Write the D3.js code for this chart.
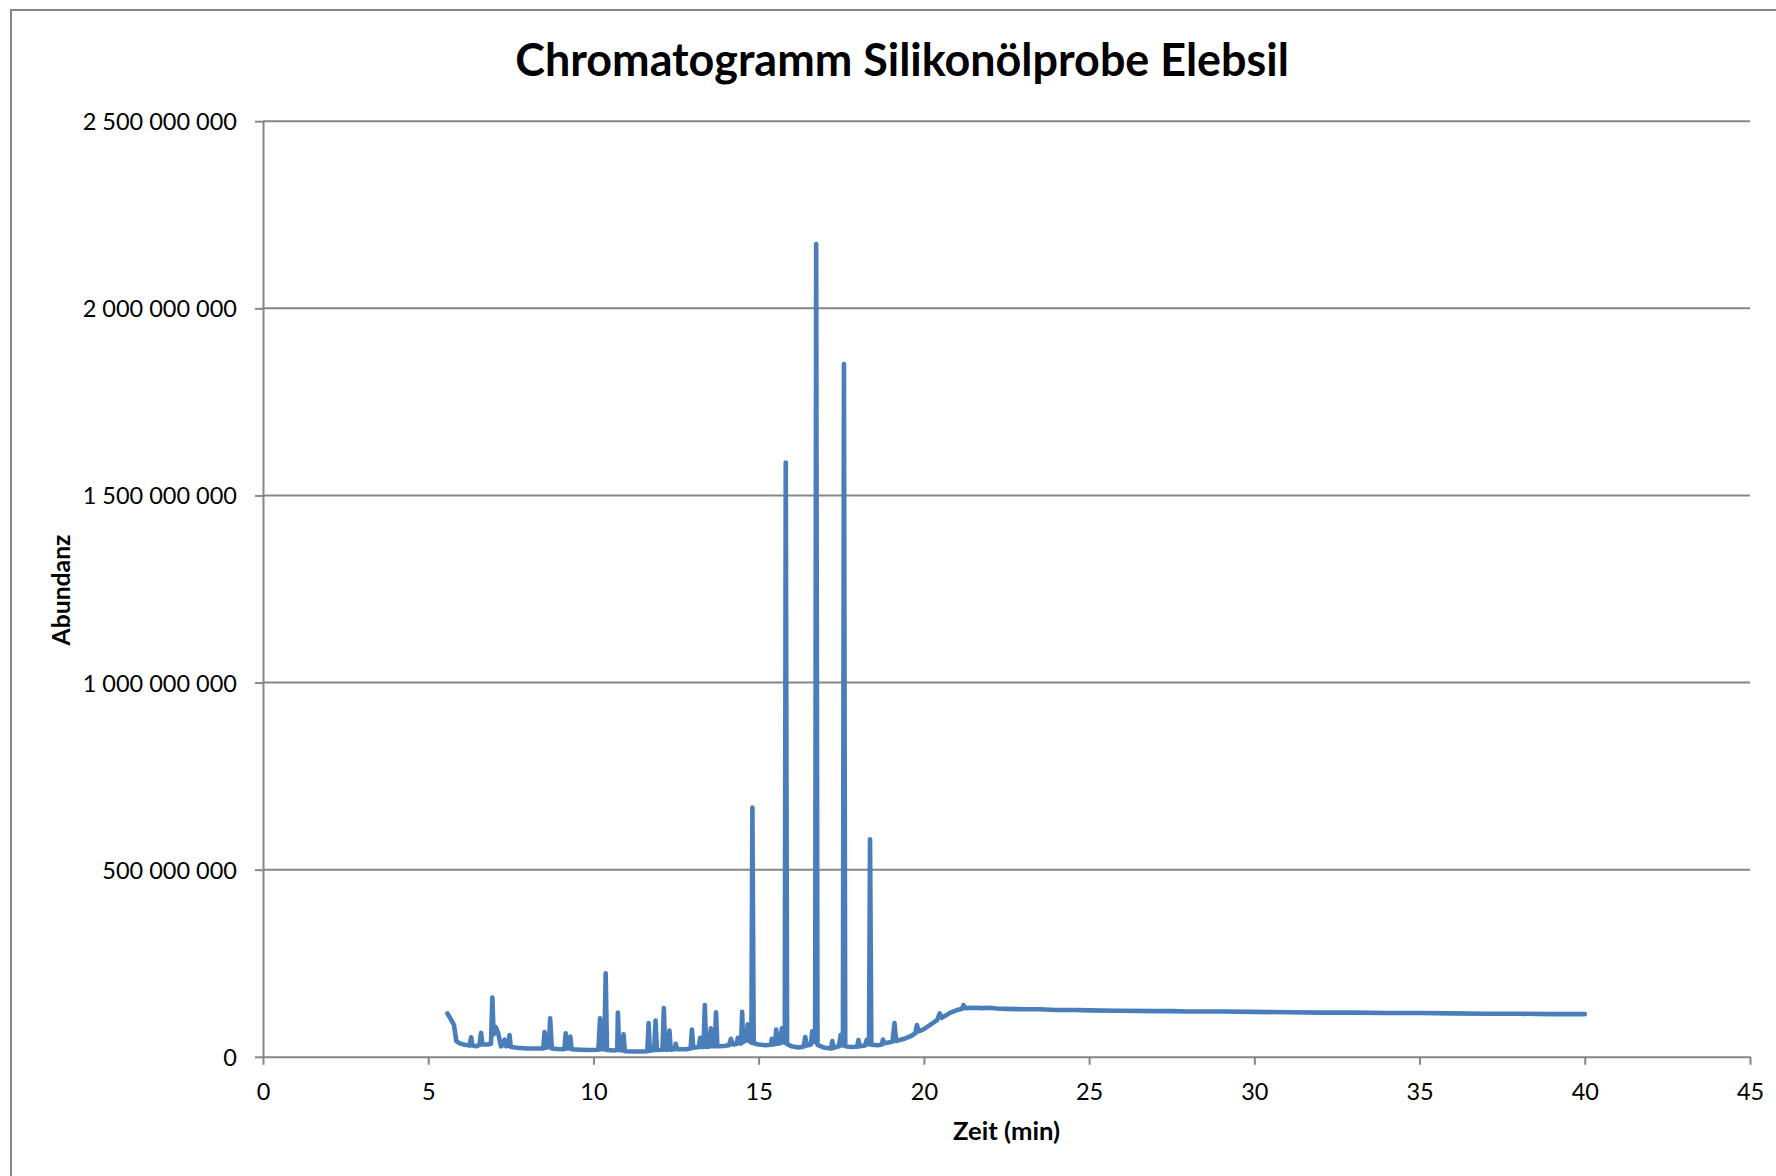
<!DOCTYPE html>
<html>
<head>
<meta charset="utf-8">
<script src="https://cdn.jsdelivr.net/npm/d3@7"></script>
<style>
  html, body { margin: 0; padding: 0; background: #ffffff; }
  svg { display: block; }
</style>
</head>
<body>
<svg id="chart" width="1776" height="1176"></svg>
<script>
// ---------- data (time in min, abundance) ----------
const chartTitle = "Chromatogramm Silikonölprobe Elebsil";
const xTitle = "Zeit (min)";
const yTitle = "Abundanz";
const xTicks = [0, 5, 10, 15, 20, 25, 30, 35, 40, 45];
const yTicks = [0, 500000000, 1000000000, 1500000000, 2000000000, 2500000000];

// retention times (min)
const times = [
  5.58, 5.70, 5.78, 5.82, 5.85, 5.95, 6.10, 6.25, 6.30, 6.34, 6.45, 6.55, 6.60, 6.64, 6.80, 6.90,
  6.94, 6.98, 7.04, 7.12, 7.20, 7.27, 7.31, 7.36, 7.43, 7.46, 7.50, 7.70, 8.00, 8.30, 8.48, 8.52,
  8.56, 8.65, 8.69, 8.74, 9.00, 9.12, 9.16, 9.20, 9.27, 9.30, 9.34, 9.60, 9.90, 10.15, 10.20, 10.25,
  10.33, 10.37, 10.41, 10.65, 10.72, 10.74, 10.78, 10.87, 10.91, 10.95, 11.20, 11.45, 11.63, 11.67,
  11.71, 11.84, 11.88, 11.92, 12.09, 12.13, 12.17, 12.26, 12.30, 12.34, 12.46, 12.49, 12.53, 12.80,
  12.94, 12.98, 13.02, 13.19, 13.23, 13.27, 13.33, 13.37, 13.41, 13.51, 13.55, 13.59, 13.67, 13.71,
  13.75, 13.95, 14.10, 14.16, 14.22, 14.33, 14.37, 14.42, 14.47, 14.50, 14.53, 14.63, 14.67, 14.72,
  14.78, 14.81, 14.85, 15.00, 15.20, 15.37, 15.40, 15.44, 15.50, 15.53, 15.57, 15.66, 15.70, 15.74,
  15.79, 15.82, 15.86, 16.00, 16.20, 16.36, 16.41, 16.46, 16.58, 16.62, 16.67, 16.71, 16.74, 16.78,
  17.00, 17.19, 17.23, 17.27, 17.43, 17.48, 17.52, 17.55, 17.58, 17.62, 17.80, 17.98, 18.02, 18.06,
  18.22, 18.27, 18.31, 18.34, 18.37, 18.41, 18.60, 18.73, 18.76, 18.80, 19.05, 19.11, 19.16, 19.40,
  19.60, 19.74, 19.79, 19.84, 20.00, 20.20, 20.40, 20.48, 20.54, 20.80, 20.90, 21.00, 21.15, 21.20,
  21.25, 21.50, 21.80, 22.00, 22.20, 22.50, 23.00, 23.50, 24.00, 24.60, 25.00, 25.80, 26.00, 27.00,
  27.50, 28.00, 29.00, 30.00, 31.00, 32.00, 33.00, 34.00, 35.00, 36.00, 37.00, 38.00, 39.00, 40.00
];
// abundance (millions of counts)
const abundanceM = [
  116, 98, 85, 60, 42, 36, 32, 30, 52, 30, 28, 32, 64, 33, 33, 35,
  158, 60, 80, 62, 28, 32, 46, 28, 30, 58, 26, 24, 22, 22, 22, 66,
  24, 26, 103, 22, 20, 20, 63, 22, 22, 54, 20, 19, 18, 19, 103, 20,
  20, 223, 18, 17, 18, 118, 18, 17, 60, 15, 14, 14, 15, 90,
  16, 18, 97, 18, 19, 130, 19, 19, 70, 19, 20, 35, 20, 20,
  22, 73, 24, 26, 51, 26, 26, 138, 27, 27, 76, 28, 28, 119,
  28, 29, 31, 48, 33, 34, 51, 36, 36, 120, 40, 44, 87, 42,
  38, 666, 36, 33, 31, 32, 48, 33, 34, 73, 35, 36, 76, 40,
  38, 1588, 34, 28, 25, 27, 53, 30, 33, 68, 40, 40, 2172, 32,
  24, 22, 42, 24, 28, 58, 30, 30, 1851, 28, 26, 27, 45, 28,
  30, 45, 34, 36, 581, 32, 31, 33, 46, 36, 40, 90, 42, 48,
  55, 63, 85, 68, 74, 86, 98, 116, 104, 118, 121, 125, 128, 138,
  130, 131, 130, 131, 129, 128, 127, 127, 125, 125, 124, 123, 123, 122,
  122, 121, 121, 120, 119, 118, 118, 117, 117, 116, 115, 115, 114, 114
];

// ---------- layout ----------
const svg = d3.select("#chart");
const W = 1776, H = 1176;
const plot = { left: 263, right: 1750, top: 121.2, bottom: 1056.8 };
const gridColor = "#868686";
const lineColor = "#4A7EBB";
const fontFamily = "Lato, 'Open Sans', 'Liberation Sans', sans-serif";

svg.append("rect").attr("x", 0).attr("y", 0).attr("width", W).attr("height", H).attr("fill", "#fff");
// chart area border (extends past the right and bottom edges)
svg.append("rect").attr("x", 11).attr("y", 10).attr("width", 1800).attr("height", 1200)
  .attr("fill", "none").attr("stroke", gridColor).attr("stroke-width", 2);

const x = d3.scaleLinear().domain([0, 45]).range([plot.left, plot.right]);
const y = d3.scaleLinear().domain([0, 2500000000]).range([plot.bottom, plot.top]);

const locale = d3.formatLocale({ decimal: ",", thousands: " ", grouping: [3], currency: ["", " €"] });
const fmt = locale.format(",d");

// gridlines
svg.append("g").selectAll("line").data(yTicks.filter(d => d > 0)).join("line")
  .attr("x1", plot.left).attr("x2", plot.right)
  .attr("y1", d => y(d)).attr("y2", d => y(d))
  .attr("stroke", gridColor).attr("stroke-width", 2);

// y axis
const yAxis = svg.append("g").attr("transform", `translate(${plot.left},0)`)
  .call(d3.axisLeft(y).tickValues(yTicks).tickFormat(fmt).tickSize(8).tickSizeOuter(0));
yAxis.select(".domain").attr("stroke", gridColor).attr("stroke-width", 2);
yAxis.selectAll(".tick line").attr("stroke", gridColor).attr("stroke-width", 2);
yAxis.selectAll(".tick text").attr("x", -26).attr("dy", "0.36em")
  .attr("font-family", fontFamily).attr("font-size", 23.5).attr("fill", "#000");

// x axis
const xAxis = svg.append("g").attr("transform", `translate(0,${plot.bottom})`)
  .call(d3.axisBottom(x).tickValues(xTicks).tickSize(8).tickSizeOuter(0));
xAxis.select(".domain").attr("stroke", gridColor).attr("stroke-width", 2);
xAxis.selectAll(".tick line").attr("stroke", gridColor).attr("stroke-width", 2);
xAxis.selectAll(".tick text").attr("y", 43.5).attr("dy", 0)
  .attr("font-family", fontFamily).attr("font-size", 23.5).attr("fill", "#000");

// data line
const pts = times.map((t, i) => [t, abundanceM[i] * 1e6]);
svg.append("path").datum(pts)
  .attr("fill", "none").attr("stroke", lineColor).attr("stroke-width", 4.6)
  .attr("stroke-linejoin", "round").attr("stroke-linecap", "round")
  .attr("d", d3.line().x(d => x(d[0])).y(d => y(d[1])));

// helper to fit text width
function fit(sel, targetWidth, baseSize) {
  sel.attr("font-size", baseSize);
  const w = sel.node().getComputedTextLength();
  sel.attr("font-size", baseSize * targetWidth / w);
}

// title
const title = svg.append("text").attr("x", 902).attr("y", 76).attr("text-anchor", "middle")
  .attr("font-family", fontFamily).attr("font-weight", "bold").attr("fill", "#000").text(chartTitle);
fit(title, 774, 46);

// x axis title
const xt = svg.append("text").attr("x", 1006.5).attr("y", 1140).attr("text-anchor", "middle")
  .attr("font-family", fontFamily).attr("font-weight", "bold").attr("fill", "#000").text(xTitle);
fit(xt, 107, 25);

// y axis title
const yt = svg.append("text").attr("transform", "translate(70,590) rotate(-90)").attr("text-anchor", "middle")
  .attr("font-family", fontFamily).attr("font-weight", "bold").attr("fill", "#000").text(yTitle);
fit(yt, 111, 25);
</script>
</body>
</html>
